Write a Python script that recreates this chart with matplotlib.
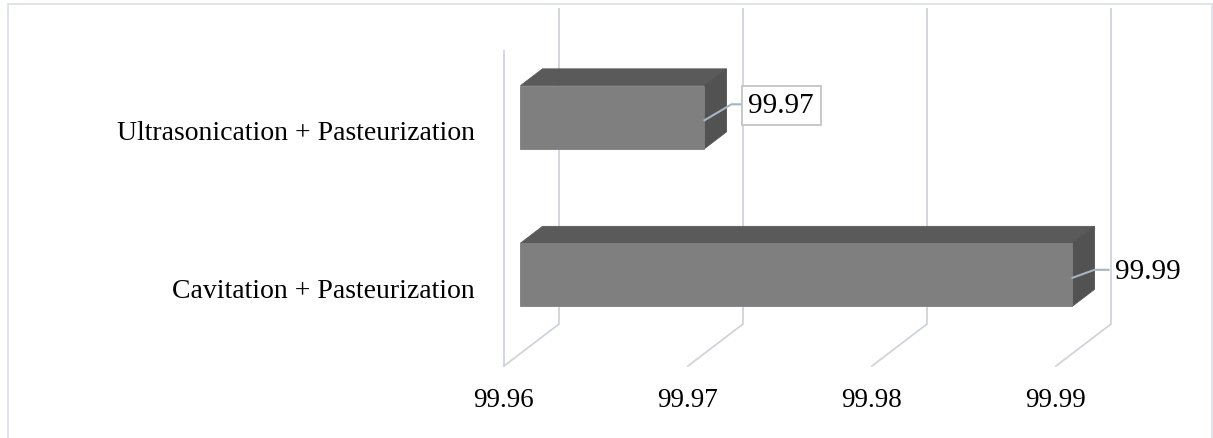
import matplotlib
matplotlib.use("Agg")
import matplotlib.pyplot as plt
from matplotlib.patches import Polygon, Rectangle
import numpy as np

# Data
categories = ["Cavitation + Pasteurization", "Ultrasonication + Pasteurization"]
values = [99.99, 99.97]
x_ticks = [99.96, 99.97, 99.98, 99.99]
x_min, x_max = 99.96, 99.99

# Styling
plt.rcParams["font.family"] = ["Liberation Serif", "DejaVu Serif"]
FRONT = "#7f7f7f"
TOP = "#5a5a5a"
SIDE = "#525252"
GRID = "#d0d3d8"
LEADER = "#a7b4c4"

W, H, DPI = 1213, 439, 100
fig = plt.figure(figsize=(W / DPI, H / DPI), dpi=DPI)

# outer chart border
fig.patches.append(Rectangle((8 / W, -0.01), (1212 - 8) / W, 1.01 - 5 / H,
                             transform=fig.transFigure, fill=False,
                             edgecolor="#dde2e8", linewidth=1.3))

# axes occupy the front plane of the 3D box
left, right, top, bottom = 504, 1056, 52, 367
ax = fig.add_axes([left / W, (H - bottom) / H, (right - left) / W, (bottom - top) / H])
ax.set_xlim(x_min, x_max)
ax.set_ylim(-0.5, 1.5)
ax.axis("off")

# depth vector (pixels, display coords)
DEPTH = np.array([55.0, 42.0])


def proj(x, y, d):
    """Map a point (value, category, depth 0..1) into data coords of ax."""
    disp = ax.transData.transform((x, y)) + d * DEPTH
    return ax.transData.inverted().transform(disp)


def line3d(pts, **kw):
    xy = np.array([proj(*p) for p in pts])
    ax.plot(xy[:, 0], xy[:, 1], clip_on=False, **kw)


# gridlines: floor diagonals and back-wall verticals
for t in x_ticks:
    line3d([(t, -0.5, 0), (t, -0.5, 1), (t, 1.5, 1)], color=GRID, lw=1.3, zorder=1,
           solid_joinstyle="miter")
# left side wall front edge
line3d([(x_min, -0.5, 0), (x_min, 1.5, 0)], color=GRID, lw=1.3, zorder=1)

# tick labels
for t in x_ticks:
    p = proj(t, -0.5, 0)
    ax.annotate(f"{t:.2f}", xy=p, xytext=(0, -21), textcoords="offset pixels",
                ha="center", va="top", fontsize=19.5, annotation_clip=False)

# category labels
for i, c in enumerate(categories):
    ax.annotate(c, xy=(x_min, i), xytext=(-29, -3), textcoords="offset pixels",
                ha="right", va="center", fontsize=20, annotation_clip=False)

# 3D bars
half = 0.2
d0, d1 = 0.3, 0.7
for i, v in enumerate(values):
    yb, yt = i - half, i + half
    front = [proj(x_min, yb, d0), proj(v, yb, d0), proj(v, yt, d0), proj(x_min, yt, d0)]
    topf = [proj(x_min, yt, d0), proj(v, yt, d0), proj(v, yt, d1), proj(x_min, yt, d1)]
    side = [proj(v, yb, d0), proj(v, yb, d1), proj(v, yt, d1), proj(v, yt, d0)]
    for poly, col in ((topf, TOP), (side, SIDE), (front, FRONT)):
        ax.add_patch(Polygon(poly, closed=True, facecolor=col, edgecolor=col,
                             lw=0.6, clip_on=False, zorder=3))

# data labels with leader lines
for i, v in enumerate(values):
    start = proj(v, i - 0.02, d0)
    sd = ax.transData.transform(start)
    boxed = v < max(values)
    if boxed:
        elbow = ax.transData.inverted().transform(sd + np.array([27, 16]))
        end = ax.transData.inverted().transform(sd + np.array([38, 16]))
    else:
        elbow = ax.transData.inverted().transform(sd + np.array([22, 8]))
        end = ax.transData.inverted().transform(sd + np.array([36, 8]))
    ax.plot([start[0], elbow[0], end[0]], [start[1], elbow[1], end[1]],
            color=LEADER, lw=1.5, clip_on=False, zorder=4)
    bbox = dict(boxstyle="square,pad=0.22", facecolor="white",
                edgecolor="#c4c4c4", lw=1.3) if boxed else None
    ax.annotate(f"{v:.2f}", xy=end, xytext=(6 if boxed else 7, -1),
                textcoords="offset pixels", ha="left", va="center",
                fontsize=21, bbox=bbox, annotation_clip=False, zorder=5)

fig.savefig("out.png", dpi=DPI, facecolor="white")
